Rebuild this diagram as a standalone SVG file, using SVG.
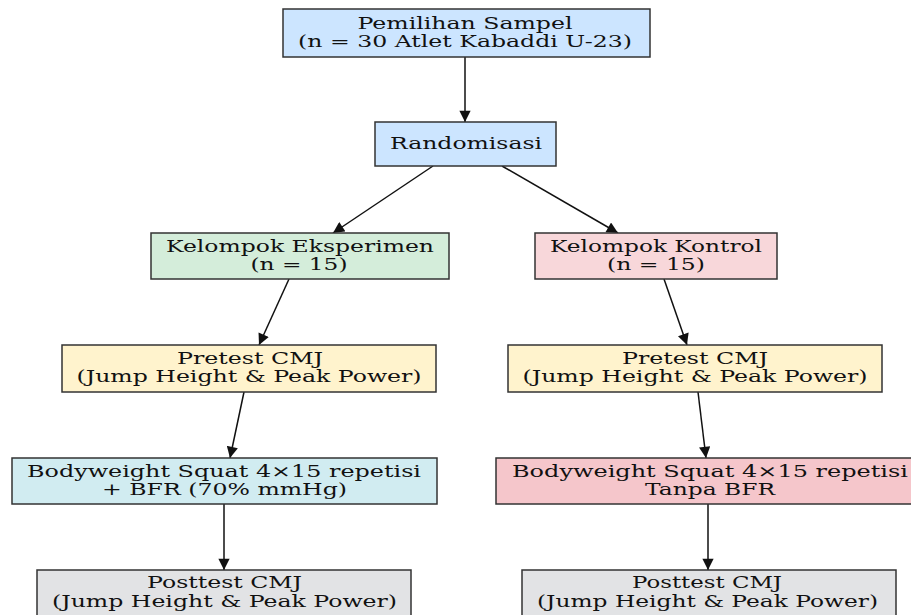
<svg xmlns="http://www.w3.org/2000/svg" width="911" height="615" viewBox="0 0 911 615">
<defs>
<style>
.n rect{stroke:#333;stroke-width:1.5}
text{font-family:"DejaVu Serif","Liberation Serif",serif;font-size:16px;fill:#111;text-anchor:middle}
.c line{stroke:#111;stroke-width:1.5;marker-end:url(#ah)}
</style>
<marker id="ah" viewBox="0 0 10 10" refX="10" refY="5" markerWidth="8" markerHeight="7.5" markerUnits="strokeWidth" orient="auto">
<path d="M0,0 L10,5 L0,10 z" fill="#111"/>
</marker>
</defs>
<rect x="0" y="0" width="911" height="615" fill="#fff"/>
<g class="c" id="connectors">
<line x1="465" y1="57" x2="465" y2="122"/>
<line x1="433" y1="166" x2="333" y2="233"/>
<line x1="502" y1="166" x2="618" y2="233"/>
<line x1="289" y1="279" x2="259" y2="345"/>
<line x1="664" y1="279" x2="687" y2="345"/>
<line x1="244" y1="392" x2="230" y2="458"/>
<line x1="698" y1="392" x2="706" y2="458"/>
<line x1="224" y1="504" x2="224" y2="570"/>
<line x1="708" y1="504" x2="708" y2="570"/>
</g>
<g class="n" id="n-sampel">
<rect x="283" y="9" width="367" height="48" fill="#cce5ff"/>
<text x="465" y="29" textLength="215" lengthAdjust="spacingAndGlyphs">Pemilihan Sampel</text>
<text x="465" y="47" textLength="334" lengthAdjust="spacingAndGlyphs">(n = 30 Atlet Kabaddi U-23)</text>
</g>
<g class="n" id="n-random">
<rect x="375" y="122" width="181" height="44" fill="#cce5ff"/>
<text x="466" y="149" textLength="152" lengthAdjust="spacingAndGlyphs">Randomisasi</text>
</g>
<g class="n" id="n-eksperimen">
<rect x="151" y="233" width="298" height="46" fill="#d4edda"/>
<text x="300" y="252" textLength="268" lengthAdjust="spacingAndGlyphs">Kelompok Eksperimen</text>
<text x="299" y="270" textLength="97" lengthAdjust="spacingAndGlyphs">(n = 15)</text>
</g>
<g class="n" id="n-kontrol">
<rect x="535" y="233" width="242" height="46" fill="#f8d7da"/>
<text x="656" y="252" textLength="212" lengthAdjust="spacingAndGlyphs">Kelompok Kontrol</text>
<text x="656" y="270" textLength="98" lengthAdjust="spacingAndGlyphs">(n = 15)</text>
</g>
<g class="n" id="n-pretest-e">
<rect x="62" y="345" width="374" height="47" fill="#fff3cd"/>
<text x="250" y="364" textLength="146" lengthAdjust="spacingAndGlyphs">Pretest CMJ</text>
<text x="249" y="382" textLength="345" lengthAdjust="spacingAndGlyphs">(Jump Height &amp; Peak Power)</text>
</g>
<g class="n" id="n-pretest-k">
<rect x="508" y="345" width="374" height="47" fill="#fff3cd"/>
<text x="695" y="364" textLength="146" lengthAdjust="spacingAndGlyphs">Pretest CMJ</text>
<text x="695" y="382" textLength="345" lengthAdjust="spacingAndGlyphs">(Jump Height &amp; Peak Power)</text>
</g>
<g class="n" id="n-bw-e">
<rect x="12" y="458" width="425" height="46" fill="#d1ecf1"/>
<text x="224" y="477" textLength="394" lengthAdjust="spacingAndGlyphs">Bodyweight Squat 4×15 repetisi</text>
<text x="224.5" y="495" textLength="245" lengthAdjust="spacingAndGlyphs">+ BFR (70% mmHg)</text>
</g>
<g class="n" id="n-bw-k">
<rect x="496" y="458" width="428" height="46" fill="#f5c6cb"/>
<text x="710" y="477" textLength="396" lengthAdjust="spacingAndGlyphs">Bodyweight Squat 4×15 repetisi</text>
<text x="710" y="495" textLength="130" lengthAdjust="spacingAndGlyphs">Tanpa BFR</text>
</g>
<g class="n" id="n-post-e">
<rect x="37" y="570" width="374" height="50" fill="#e2e3e5"/>
<text x="224.5" y="588" textLength="155" lengthAdjust="spacingAndGlyphs">Posttest CMJ</text>
<text x="224.5" y="607" textLength="345" lengthAdjust="spacingAndGlyphs">(Jump Height &amp; Peak Power)</text>
</g>
<g class="n" id="n-post-k">
<rect x="522" y="570" width="374" height="50" fill="#e2e3e5"/>
<text x="707" y="588" textLength="150" lengthAdjust="spacingAndGlyphs">Posttest CMJ</text>
<text x="707.5" y="607" textLength="341" lengthAdjust="spacingAndGlyphs">(Jump Height &amp; Peak Power)</text>
</g>
</svg>
